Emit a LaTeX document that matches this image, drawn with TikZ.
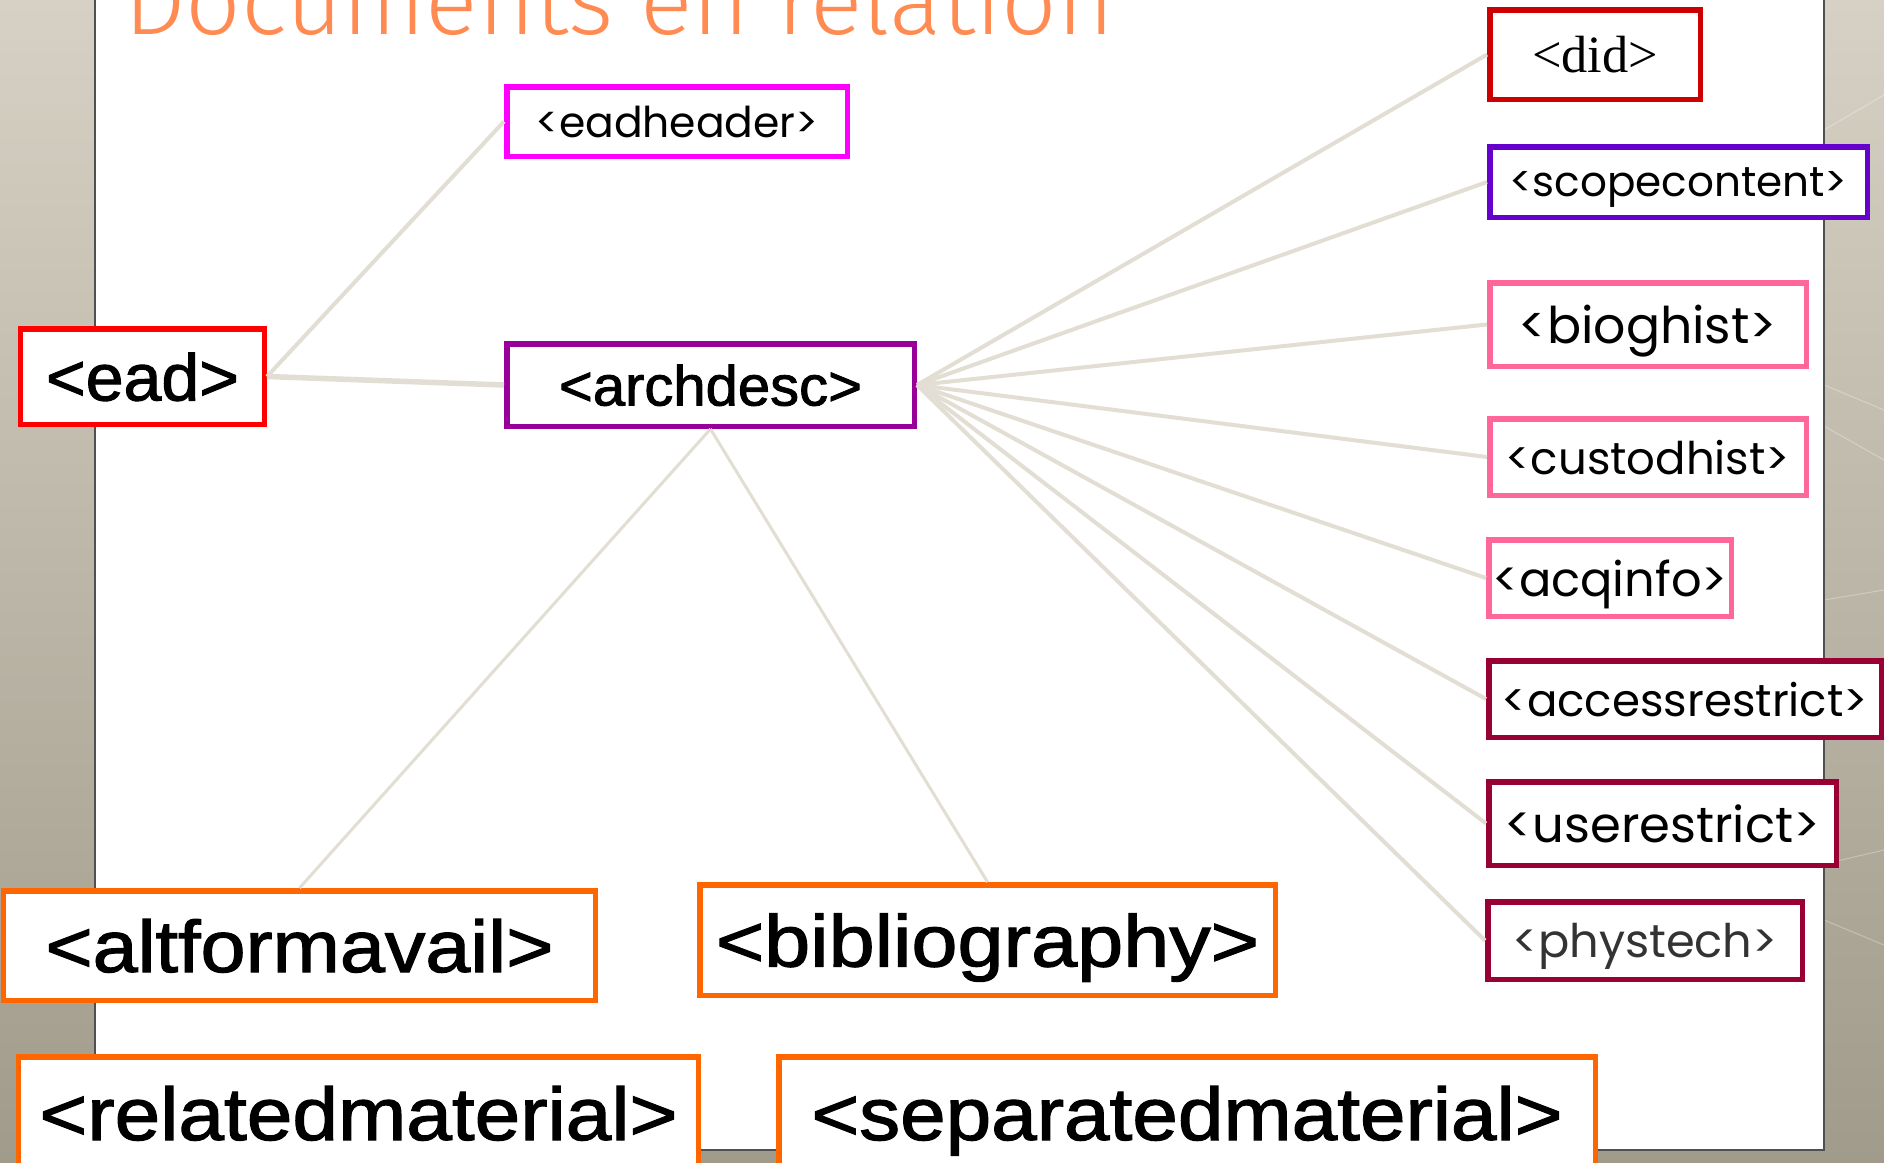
\documentclass[tikz,border=0pt]{standalone}
\usepackage{fontspec}
\setmainfont{Liberation Sans}
\newfontfamily\semisans{Liberation Sans}[FakeBold=1.5]
\newfontfamily\gothic{Poppins}
\newfontfamily\timesf{Liberation Serif}
\newfontfamily\thinsans{Fira Sans Light}
\newcommand{\fitw}[2]{\resizebox{#1bp}{!}{#2}}
\newcommand{\fitwh}[3]{\resizebox{#1bp}{#2bp}{#3}}

\definecolor{bgtop}{HTML}{D6D1C4}
\definecolor{bgbot}{HTML}{A19B8B}
\definecolor{paneledge}{HTML}{505050}
\definecolor{linkgray}{HTML}{E2DED3}
\definecolor{titleorange}{HTML}{FF8B52}
\definecolor{eadred}{HTML}{FF0000}
\definecolor{headmag}{HTML}{FF00FF}
\definecolor{archpurple}{HTML}{990099}
\definecolor{didred}{HTML}{CC0000}
\definecolor{scopeviolet}{HTML}{6600CC}
\definecolor{histpink}{HTML}{FF6699}
\definecolor{restwine}{HTML}{990033}
\definecolor{moreorange}{HTML}{FF6600}

\tikzset{
  tag/.style={draw=#1,line width=5.5bp,fill=white,inner sep=0pt,text depth=0pt},
  link/.style={draw=linkgray,line width=4bp},
}

\begin{document}
\begin{tikzpicture}[x=1bp,y=-1bp]
   \useasboundingbox (0,0) rectangle (1884,1162);
   % slide background
   \fill[top color=bgtop,bottom color=bgbot] (0,0) rectangle (1884,1162);
   \foreach \ya/\yb in {130/95,385/410,426/460,600/590,864/850,920/945}
      \draw[white,opacity=.3,line width=1bp] (1824,\ya) -- (1884,\yb);
   \draw[paneledge,line width=2bp,fill=white] (95,-10) rectangle (1824,1150);
   \node[anchor=base west,inner sep=0pt,text=titleorange] (title) at (124,34)
      {\fitwh{990}{72}{\thinsans Documents en relation}};

   \node[tag=eadred,minimum width=243.5bp,minimum height=95.5bp] (ead) at (142.5,376.5)
      {\fitwh{193}{48}{\semisans <ead>}};
   \node[tag=headmag,minimum width=340.5bp,minimum height=69.5bp] (eadheader) at (677,121.5)
      {\fitw{283}{\gothic <eadheader>}};
   \node[tag=archpurple,minimum width=407.5bp,minimum height=82.5bp] (archdesc) at (710.5,385)
      {\fitwh{303}{41}{\semisans <archdesc>}};

   \node[tag=didred,minimum width=210.5bp,minimum height=89.5bp] (did) at (1595,54.5)
      {\fitw{126}{\timesf <did>}};
   \node[tag=scopeviolet,minimum width=377.5bp,minimum height=70.5bp] (scopecontent) at (1678.5,182)
      {\fitw{338}{\gothic <scopecontent>}};
   \node[tag=histpink,minimum width=316.5bp,minimum height=83.5bp] (bioghist) at (1648,324.5)
      {\fitw{258}{\gothic <bioghist>}};
   \node[tag=histpink,minimum width=316.5bp,minimum height=76.5bp] (custodhist) at (1648,457)
      {\fitw{284}{\gothic <custodhist>}};
   \node[tag=histpink,minimum width=242.5bp,minimum height=76.5bp] (acqinfo) at (1610,578)
      {\fitw{235}{\gothic <acqinfo>}};
   \node[tag=restwine,minimum width=392.5bp,minimum height=76.5bp] (accessrestrict) at (1685,699)
      {\fitw{366}{\gothic <accessrestrict>}};
   \node[tag=restwine,minimum width=347.5bp,minimum height=83.5bp] (userestrict) at (1662.5,823.5)
      {\fitw{315}{\gothic <userestrict>}};
   \node[tag=restwine,minimum width=314.5bp,minimum height=77.5bp,text=black!80] (phystech) at (1645,940.5)
      {\fitw{265}{\gothic <phystech>}};

   \node[tag=moreorange,minimum width=591.5bp,minimum height=109.5bp] (altformavail) at (299.5,945.5)
      {\fitwh{508}{53}{\semisans <altformavail>}};
   \node[tag=moreorange,minimum width=575.5bp,minimum height=110.5bp] (bibliography) at (987.5,940)
      {\fitwh{543}{53}{\semisans <bibliography>}};
   \node[tag=moreorange,minimum width=679.5bp,minimum height=112.5bp] (relatedmaterial) at (358.5,1113)
      {\fitwh{638}{54}{\semisans <relatedmaterial>}};
   \node[tag=moreorange,minimum width=816.5bp,minimum height=112.5bp] (separatedmaterial) at (1187,1113)
      {\fitwh{751}{54}{\semisans <separatedmaterial>}};

   \path[link] (ead.east) edge (eadheader.west)
                          edge[line width=5.5bp] (archdesc.west);
   \path[link] (archdesc.east) edge (did.west)
                               edge (scopecontent.west)
                               edge (bioghist.west)
                               edge (custodhist.west)
                               edge (acqinfo.west)
                               edge (accessrestrict.west)
                               edge (userestrict.west)
                               edge (phystech.west);
   \path[link,line width=3bp] (archdesc.south) edge (altformavail.north)
                                               edge (bibliography.north);
\end{tikzpicture}
\end{document}
